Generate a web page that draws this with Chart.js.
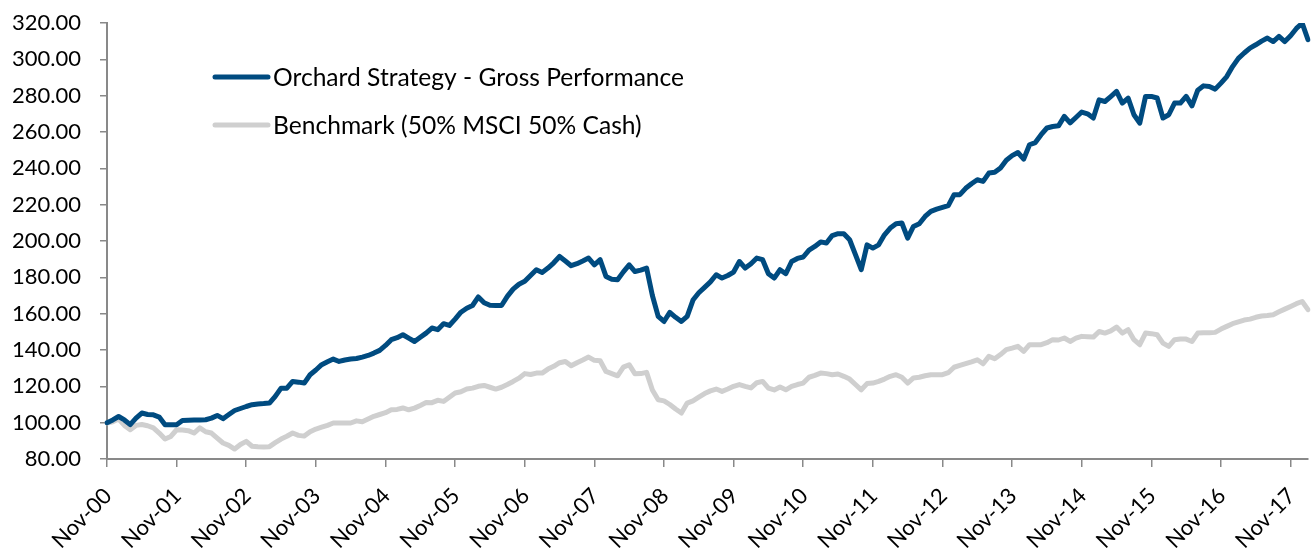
<!DOCTYPE html>
<html>
<head>
<meta charset="utf-8">
<script src="https://cdn.jsdelivr.net/npm/chart.js@4.4.1/dist/chart.umd.min.js"></script>
<style>
  html, body { margin: 0; padding: 0; background: #ffffff; }
  #wrap { width: 1312px; height: 552px; position: relative; }
</style>
</head>
<body>
<div id="wrap"><canvas id="c" width="1312" height="552"></canvas></div>
<script>
// ---- data ----
const seriesNames = ['Orchard Strategy - Gross Performance', 'Benchmark (50% MSCI 50% Cash)'];
const monthNames = ['Jan','Feb','Mar','Apr','May','Jun','Jul','Aug','Sep','Oct','Nov','Dec'];
const firstMonth = { year: 2000, month: 10 }; // Nov-00
const monthCount = 208;                        // Nov-00 .. Feb-18
const yearTickLabels = ['Nov-00','Nov-01','Nov-02','Nov-03','Nov-04','Nov-05','Nov-06','Nov-07','Nov-08',
  'Nov-09','Nov-10','Nov-11','Nov-12','Nov-13','Nov-14','Nov-15','Nov-16','Nov-17'];
const yTicks = { min: 80, max: 320, step: 20 };

const orchard = [
  100.0,101.5,103.4,101.5, 98.9,102.5,105.3,104.5,104.3,103.1, 98.9, 98.9,
   98.9,101.2,101.3,101.4,101.5,101.6,102.5,104.0,102.2,104.5,106.7,107.8,
  108.9,109.9,110.3,110.5,110.8,114.5,119.0,119.0,122.7,122.3,121.8,126.4,
  129.0,131.9,133.5,135.0,133.7,134.5,135.0,135.3,136.1,137.0,138.3,139.8,
  142.5,145.7,146.8,148.4,146.5,144.7,147.0,149.3,152.1,151.2,154.5,153.5,
  157.0,160.8,163.0,164.5,169.2,166.0,164.6,164.5,164.5,169.5,173.5,176.2,
  177.8,181.0,184.2,182.7,185.1,188.0,191.5,189.0,186.4,187.5,189.0,190.6,
  186.9,189.7,180.5,179.0,178.7,183.0,186.9,183.2,184.0,185.1,170.0,158.5,
  155.7,160.7,158.0,155.7,158.5,167.5,171.5,174.5,177.5,181.4,179.6,181.0,
  182.9,188.7,185.1,187.5,190.6,189.7,182.0,179.6,184.2,182.0,188.7,190.4,
  191.2,195.0,197.0,199.5,198.9,203.0,204.0,204.0,200.7,192.5,184.2,197.9,
  196.1,197.9,203.4,207.1,209.5,209.9,201.6,208.0,209.5,213.5,216.3,217.5,
  218.5,219.5,225.5,225.5,229.0,231.5,233.7,232.8,237.4,237.8,240.2,244.5,
  247.0,248.7,245.1,253.0,254.2,258.5,262.2,263.0,263.4,268.6,265.0,268.0,
  271.0,270.0,267.7,277.7,276.8,279.5,282.3,275.9,278.7,269.5,264.9,279.6,
  279.6,278.7,267.7,269.5,275.9,275.9,279.6,274.4,283.0,285.4,285.0,283.6,
  286.9,290.5,296.0,300.5,303.5,306.2,308.0,310.0,311.7,309.8,312.6,309.8,
  313.0,317.0,319.9,310.8
];
const benchmark = [
   99.8,100.5,102.0, 98.5, 96.1, 98.5, 99.0, 98.3, 97.1, 94.3, 91.0, 92.4,
   96.1, 96.0, 95.6, 94.3, 97.1, 95.0, 94.3, 91.5, 88.8, 87.5, 85.5, 88.0,
   89.7, 87.0, 86.7, 86.6, 86.8, 89.0, 91.0, 92.5, 94.3, 93.0, 92.6, 95.0,
   96.5, 97.5, 98.5, 99.8, 99.8, 99.8, 99.8,101.0,100.5,102.0,103.5,104.5,
  105.5,107.1,107.3,108.1,107.1,108.0,109.5,111.1,111.0,112.3,111.7,114.0,
  116.3,117.0,118.5,119.0,120.0,120.5,119.5,118.5,119.5,121.0,122.7,124.5,
  127.0,126.5,127.3,127.3,129.5,131.0,133.0,133.7,131.3,133.0,134.5,136.1,
  134.3,134.1,128.2,127.0,125.8,130.6,131.9,126.9,127.0,127.7,118.0,112.6,
  112.0,110.0,107.5,105.3,110.8,112.0,114.0,116.0,117.5,118.5,117.2,118.5,
  120.0,121.0,120.0,119.1,122.0,122.7,119.0,118.0,119.6,118.1,120.0,121.0,
  121.8,125.0,126.0,127.3,127.0,126.4,126.8,125.5,124.0,121.0,118.1,121.5,
  121.8,122.7,124.0,125.5,126.4,125.0,121.8,124.6,125.0,125.8,126.4,126.4,
  126.4,127.5,130.5,131.5,132.5,133.5,134.6,132.4,136.5,135.2,137.5,140.2,
  141.0,142.0,139.2,142.9,142.9,142.9,144.0,145.7,145.5,146.6,144.7,146.5,
  147.5,147.3,147.1,150.2,149.3,150.5,152.6,149.3,151.2,145.7,142.9,149.3,
  149.0,148.4,143.8,142.0,145.7,146.0,146.0,144.7,149.3,149.5,149.5,149.7,
  151.5,153.0,154.5,155.5,156.5,157.0,158.0,158.7,159.0,159.4,161.0,162.5,
  164.0,165.5,166.7,162.2
];

// month categories
const categories = [];
for (let i = 0; i < monthCount; i++) {
  const m = (firstMonth.month + i) % 12;
  const y = firstMonth.year + Math.floor((firstMonth.month + i) / 12);
  categories.push(monthNames[m] + '-' + String(y % 100).padStart(2, '0'));
}

// ---- style ----
const BLUE = '#004b80';
const GREY = '#cfcfcf';
const AXIS = '#898989';
const FONT = 'Lato, "Open Sans", sans-serif';

const legendPlugin = {
  id: 'insideLegend',
  afterDraw(chart) {
    const ctx = chart.ctx;
    const rows = [ { y: 77 }, { y: 125 } ];
    ctx.save();
    chart.data.datasets.forEach((ds, i) => {
      const y = rows[i].y;
      ctx.beginPath();
      ctx.lineCap = 'round';
      ctx.lineWidth = 5;
      ctx.strokeStyle = ds.borderColor;
      ctx.moveTo(215, y);
      ctx.lineTo(268, y);
      ctx.stroke();
      ctx.fillStyle = '#000';
      ctx.font = '24.6px ' + FONT;
      ctx.textBaseline = 'middle';
      ctx.textAlign = 'left';
      ctx.fillText(ds.label, 273, y + 1);
    });
    ctx.restore();
  }
};

new Chart(document.getElementById('c'), {
  type: 'line',
  data: {
    labels: categories,
    datasets: [
      { label: seriesNames[0], data: orchard, borderColor: BLUE, backgroundColor: BLUE,
        borderWidth: 5, pointRadius: 0, tension: 0, borderJoinStyle: 'round', borderCapStyle: 'round' },
      { label: seriesNames[1], data: benchmark, borderColor: GREY, backgroundColor: GREY,
        borderWidth: 5, pointRadius: 0, tension: 0, borderJoinStyle: 'round', borderCapStyle: 'round' }
    ]
  },
  options: {
    responsive: false,
    animation: false,
    devicePixelRatio: 1,
    layout: { padding: { top: 23, right: 4, left: 0, bottom: 0 } },
    plugins: { legend: { display: false }, tooltip: { enabled: false } },
    scales: {
      x: {
        type: 'category',
        offset: false,
        afterFit(s) { s.height = 93; s.paddingLeft = 0; s.paddingRight = 0; },
        grid: {
          drawOnChartArea: false, drawTicks: true, tickLength: 8, lineWidth: 1.5,
          color: (c) => (c.index % 12 === 0 ? AXIS : 'rgba(0,0,0,0)')
        },
        border: { color: AXIS, width: 2 },
        ticks: {
          autoSkip: false, maxRotation: 45, minRotation: 45, padding: 16, labelOffset: 1,
          color: '#000', font: { family: FONT, size: 22 },
          callback: (v, i) => (i % 12 === 0 ? yearTickLabels[i / 12] : '')
        }
      },
      y: {
        min: yTicks.min, max: yTicks.max,
        afterFit(s) { s.width = 107; s.paddingTop = 0; s.paddingBottom = 0; },
        grid: { drawOnChartArea: false, drawTicks: true, tickLength: 7, color: AXIS, lineWidth: 1.5 },
        border: { color: AXIS, width: 2 },
        ticks: {
          stepSize: yTicks.step, padding: 19, color: '#000', font: { family: FONT, size: 22 },
          callback: (v) => Number(v).toFixed(2)
        }
      }
    }
  },
  plugins: [legendPlugin]
});
</script>
</body>
</html>
